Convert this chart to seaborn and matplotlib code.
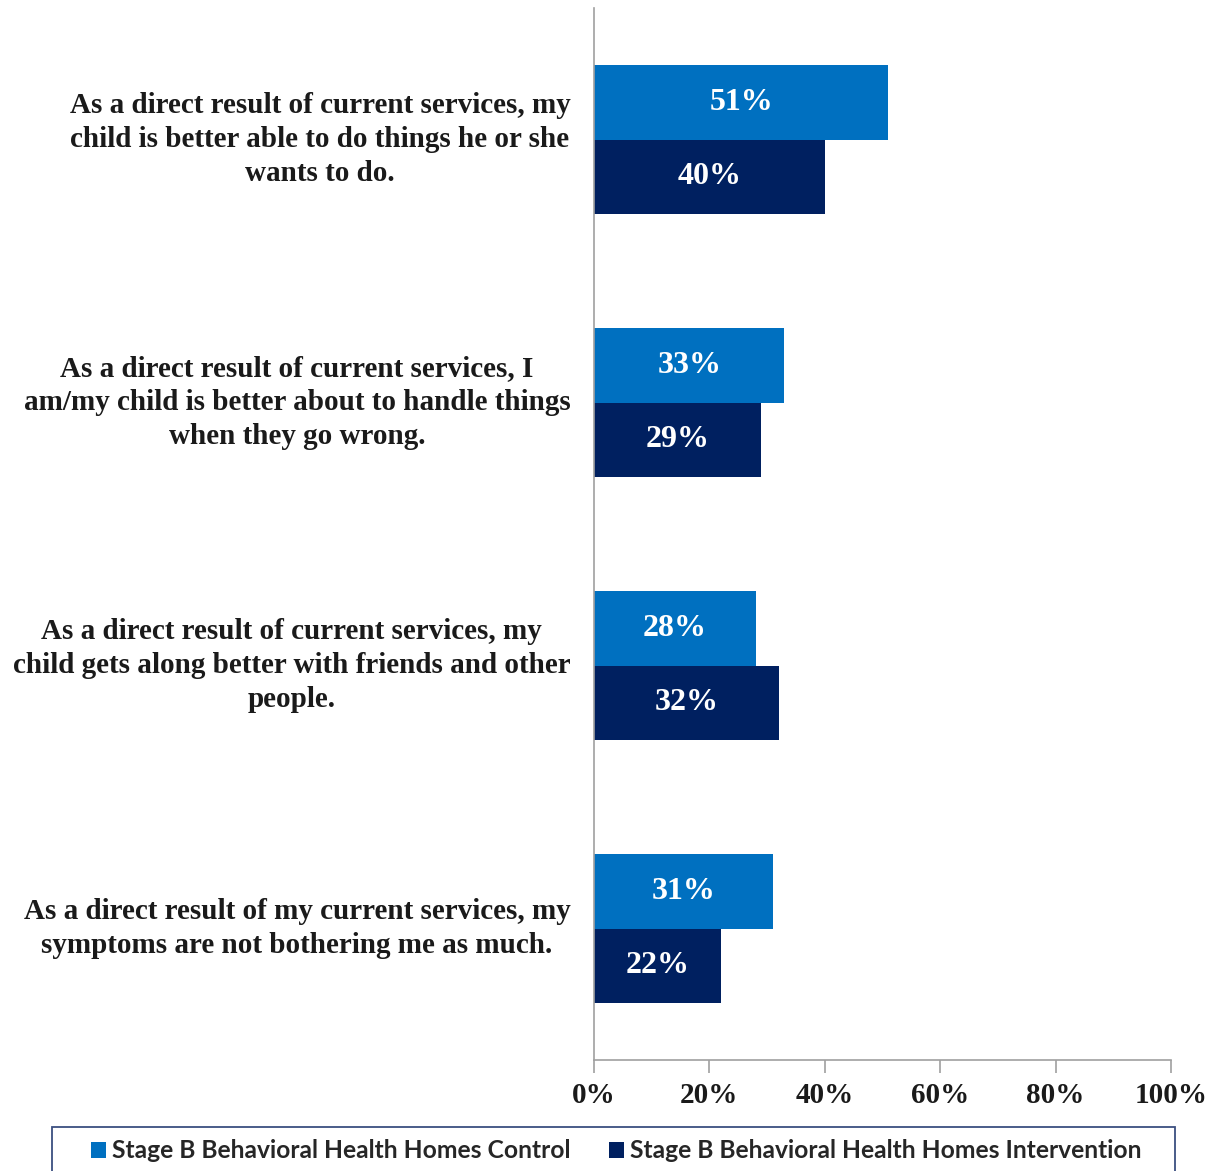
import matplotlib
matplotlib.use("Agg")
import matplotlib.pyplot as plt
from matplotlib.patches import Patch, Rectangle
import pandas as pd
import seaborn as sns

categories = [
    "As a direct result of current services, my\nchild is better able to do things he or she\nwants to do.",
    "As a direct result of current services, I\nam/my child is better about to handle things\nwhen they go wrong.",
    "As a direct result of current services, my\nchild gets along better with friends and other\npeople.",
    "As a direct result of my current services, my\nsymptoms are not bothering me as much.",
]
series = ["Stage B Behavioral Health Homes Control",
          "Stage B Behavioral Health Homes Intervention"]
control = [51, 33, 28, 31]
intervention = [40, 29, 32, 22]
x_ticks = [0, 20, 40, 60, 80, 100]
x_tick_labels = ["0%", "20%", "40%", "60%", "80%", "100%"]

colors = ["#0070C0", "#002060"]

df = pd.DataFrame({
    "category": categories * 2,
    "series": [series[0]] * len(categories) + [series[1]] * len(categories),
    "value": control + intervention,
})

sns.set_theme(style="white")
plt.rcParams["font.family"] = ["Liberation Serif", "DejaVu Serif"]

W, H = 1215, 1171
fig = plt.figure(figsize=(W / 100, H / 100), dpi=100)
ax = fig.add_axes([594 / W, 1 - 1060 / H, (1171 - 594) / W, (1060 - 8) / H])

sns.barplot(data=df, y="category", x="value", hue="series", order=categories,
            hue_order=series, palette=colors, orient="h", width=0.57,
            saturation=1, ax=ax, legend=False, linewidth=0)

ax.set_xlim(0, 100)
ax.set_ylim(3.5, -0.5)
ax.set_xticks(x_ticks)
ax.set_xticklabels(x_tick_labels, fontsize=21, fontweight="bold", color="#1a1a1a")
ax.set_xlabel("")
ax.set_ylabel("")
ax.tick_params(axis="x", bottom=True, direction="out", length=9, width=1.2,
               color="#a0a0a0", pad=7)
ax.tick_params(axis="y", left=False, length=0, pad=17)
for lab in ax.get_yticklabels():
    lab.set_fontsize(21)
    lab.set_fontweight("bold")
    lab.set_color("#1a1a1a")
    lab.set_multialignment("center")
    lab.set_verticalalignment("center")
    lab.set_linespacing(1.34)

for side in ["top", "right"]:
    ax.spines[side].set_visible(False)
for side in ["left", "bottom"]:
    ax.spines[side].set_color("#a0a0a0")
    ax.spines[side].set_linewidth(1.2)

for container in ax.containers:
    ax.bar_label(container, labels=[f"{v:.0f}%" for v in container.datavalues],
                 label_type="center", color="white", fontsize=23, fontweight="bold")

# Legend box along the bottom edge
fig.patches.append(Rectangle((52 / W, -0.02), (1175 - 52) / W, (H - 1127) / H + 0.02,
                             transform=fig.transFigure, facecolor="white",
                             edgecolor="#3c4f80", linewidth=1.3, zorder=0))
handles = [Patch(facecolor=c, edgecolor="none") for c in colors]
leg = fig.legend(handles, series, loc="center left",
                 bbox_to_anchor=(91 / W, 1 - 1151 / H),
                 ncol=2, frameon=False,
                 prop={"family": ["Lato", "DejaVu Sans"], "weight": "bold", "size": 17.7},
                 handlelength=0.62, handleheight=0.62, handletextpad=0.25,
                 borderpad=0.0, borderaxespad=0.0, columnspacing=1.55)

fig.savefig("out.png", dpi=100)
